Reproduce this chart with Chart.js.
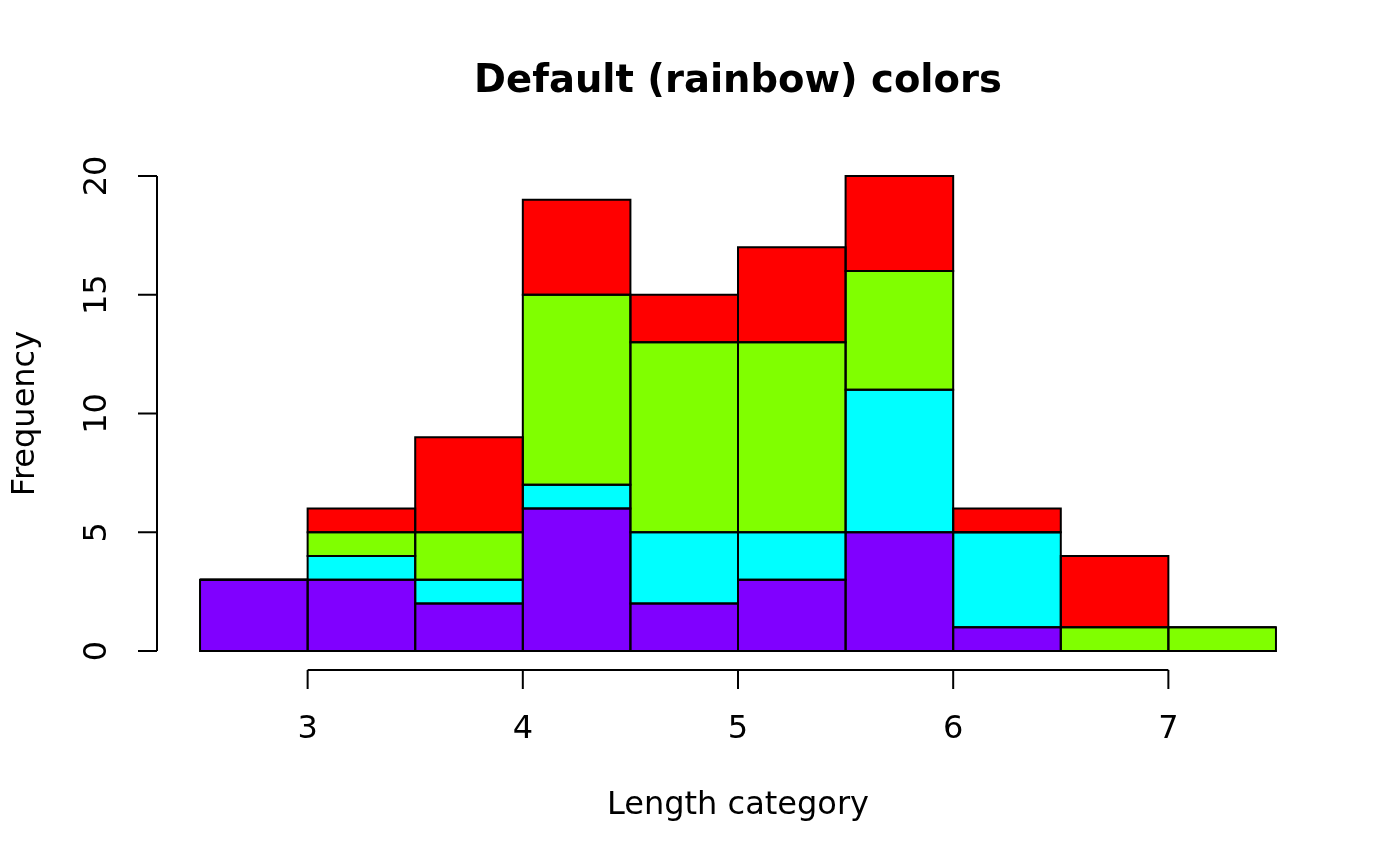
<!DOCTYPE html>
<html lang="en">
<head>
    <meta charset="UTF-8">
    <title>Default (rainbow) colors</title>
    <script src="https://cdn.jsdelivr.net/npm/chart.js"></script>
    <style>
        html, body { margin: 0; padding: 0; background: #fff; }
        #wrap { width: 1400px; height: 866px; }
    </style>
</head>
<body>
    <div id="wrap"><canvas id="histChart" width="1400" height="866"></canvas></div>
    <script>
        // bin centres (bins are 0.5 wide, 2.5 .. 7.5)
        const binCenters = [2.75, 3.25, 3.75, 4.25, 4.75, 5.25, 5.75, 6.25, 6.75, 7.25];
        // counts per group, stacked bottom to top
        const purpleCounts = [3, 3, 2, 6, 2, 3, 5, 1, 0, 0];
        const cyanCounts   = [0, 1, 1, 1, 3, 2, 6, 4, 0, 0];
        const greenCounts  = [0, 1, 2, 8, 8, 8, 5, 0, 1, 1];
        const redCounts    = [0, 1, 4, 4, 2, 4, 4, 1, 3, 0];
        const xTicks = [3, 4, 5, 6, 7];
        const yTicks = [0, 5, 10, 15, 20];

        const FONT = 'DejaVu Sans';

        function series(counts) {
            return binCenters.map((x, i) => ({ x: x, y: counts[i] }));
        }

        // outline every bar centred on its edges, like R's rect()
        const barOutlines = {
            id: 'barOutlines',
            afterDatasetsDraw(chart) {
                const ctx = chart.ctx;
                ctx.save();
                ctx.strokeStyle = '#000';
                ctx.lineWidth = 2;
                chart.data.datasets.forEach((ds, i) => {
                    chart.getDatasetMeta(i).data.forEach(bar => {
                        const p = bar.getProps(['x', 'y', 'base', 'width']);
                        const top = Math.min(p.y, p.base), h = Math.abs(p.base - p.y);
                        ctx.strokeRect(p.x - p.width / 2, top, p.width, h);
                    });
                });
                ctx.restore();
            }
        };

        // R-style axes drawn with the chart's own scales
        const rAxes = {
            id: 'rAxes',
            afterDraw(chart) {
                const ctx = chart.ctx;
                const xs = chart.scales.x, ys = chart.scales.y;
                const area = chart.chartArea;
                ctx.save();
                ctx.strokeStyle = '#000';
                ctx.lineWidth = 2;
                ctx.fillStyle = '#000';
                ctx.font = '32px "' + FONT + '"';

                // x axis
                const xa = area.bottom;
                ctx.beginPath();
                ctx.moveTo(xs.getPixelForValue(xTicks[0]), xa);
                ctx.lineTo(xs.getPixelForValue(xTicks[xTicks.length - 1]), xa);
                xTicks.forEach(t => {
                    const px = xs.getPixelForValue(t);
                    ctx.moveTo(px, xa);
                    ctx.lineTo(px, xa + 19);
                });
                ctx.stroke();
                ctx.textAlign = 'center';
                ctx.textBaseline = 'middle';
                xTicks.forEach(t => {
                    ctx.fillText(String(t), xs.getPixelForValue(t), xa + 60);
                });

                // y axis
                const ya = area.left;
                ctx.beginPath();
                ctx.moveTo(ya, ys.getPixelForValue(yTicks[0]));
                ctx.lineTo(ya, ys.getPixelForValue(yTicks[yTicks.length - 1]));
                yTicks.forEach(t => {
                    const py = ys.getPixelForValue(t);
                    ctx.moveTo(ya, py);
                    ctx.lineTo(ya - 19, py);
                });
                ctx.stroke();
                yTicks.forEach(t => {
                    ctx.save();
                    ctx.translate(ya - 59, ys.getPixelForValue(t));
                    ctx.rotate(-Math.PI / 2);
                    ctx.fillText(String(t), 0, 0);
                    ctx.restore();
                });

                // axis titles
                ctx.fillText('Length category', (area.left + area.right) / 2, 806);
                ctx.save();
                ctx.translate(26, (area.top + area.bottom) / 2);
                ctx.rotate(-Math.PI / 2);
                ctx.fillText('Frequency', 0, 0);
                ctx.restore();

                // main title
                ctx.font = 'bold 38.5px "' + FONT + '"';
                ctx.fillText('Default (rainbow) colors', (area.left + area.right) / 2, 82);
                ctx.restore();
            }
        };

        const barStyle = {
            borderWidth: 0,
            barPercentage: 1.0,
            categoryPercentage: 1.0
        };

        new Chart(document.getElementById('histChart'), {
            type: 'bar',
            data: {
                datasets: [
                    Object.assign({ label: 'purple', data: series(purpleCounts), backgroundColor: '#8000FF' }, barStyle),
                    Object.assign({ label: 'cyan', data: series(cyanCounts), backgroundColor: '#00FFFF' }, barStyle),
                    Object.assign({ label: 'green', data: series(greenCounts), backgroundColor: '#80FF00' }, barStyle),
                    Object.assign({ label: 'red', data: series(redCounts), backgroundColor: '#FF0000' }, barStyle)
                ]
            },
            options: {
                responsive: false,
                animation: false,
                layout: { padding: { left: 157, right: 81, top: 157, bottom: 196 } },
                plugins: {
                    legend: { display: false },
                    tooltip: { enabled: false }
                },
                scales: {
                    x: { type: 'linear', min: 2.3, max: 7.7, stacked: true, display: false, offset: false },
                    y: { min: -0.8, max: 20.8, stacked: true, display: false }
                }
            },
            plugins: [barOutlines, rAxes]
        });
    </script>
</body>
</html>
